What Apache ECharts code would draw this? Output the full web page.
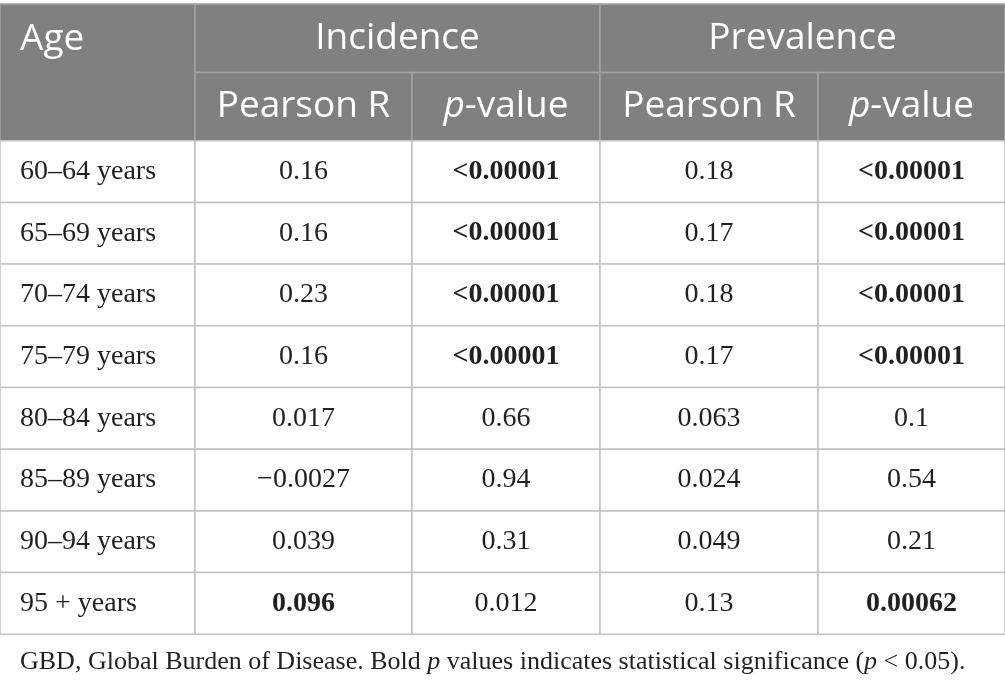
<!DOCTYPE html>
<html lang="en">
<head>
<meta charset="UTF-8">
<title>Age correlation table</title>
<script src="https://cdn.jsdelivr.net/npm/echarts@6/dist/echarts.min.js"></script>
<style>
  html, body { margin: 0; padding: 0; background: #fff; }
  #main { width: 1005px; height: 685px; }
</style>
</head>
<body>
<div id="main"></div>
<script>
    // table data
    var ages = ['60–64 years', '65–69 years', '70–74 years', '75–79 years',
                '80–84 years', '85–89 years', '90–94 years', '95 + years'];
    var incidenceR = ['0.16', '0.16', '0.23', '0.16', '0.017', '−0.0027', '0.039', '0.096'];
    var incidenceP = ['<0.00001', '<0.00001', '<0.00001', '<0.00001', '0.66', '0.94', '0.31', '0.012'];
    var prevalenceR = ['0.18', '0.17', '0.18', '0.17', '0.063', '0.024', '0.049', '0.13'];
    var prevalenceP = ['<0.00001', '<0.00001', '<0.00001', '<0.00001', '0.1', '0.54', '0.21', '0.00062'];
    // bold as printed in the source
    var incidenceRBold = [0, 0, 0, 0, 0, 0, 0, 1];
    var incidencePBold = [1, 1, 1, 1, 0, 0, 0, 0];
    var prevalenceRBold = [0, 0, 0, 0, 0, 0, 0, 0];
    var prevalencePBold = [1, 1, 1, 1, 0, 0, 0, 1];
    var groupNames = ['Incidence', 'Prevalence'];
    var subHeads = ['Pearson R', '{it|p}-value'];
    var footnote = 'GBD, Global Burden of Disease. Bold {it|p} values indicates statistical significance ({it|p} < 0.05).';

    // layout (pixel units, the axes run 0..1005 / 0..685)
    var colEdges = [0, 195, 412, 600, 818, 1005];
    var headTop = 4, headMid = 72.5, headBottom = 140.7, rowH = 61.7;

    var headFont = '"Open Sans", "Noto Sans", sans-serif';
    var bodyFont = '"Liberation Serif", "DejaVu Serif", serif';
    var headSize = 37, bodySize = 28, noteSize = 26;
    var headFill = '#808080', headLine = '#a3a3a3', bodyLine = '#c2c2c2', ink = '#231f20';

    var headRich = {
        it: { fontStyle: 'italic', fontFamily: headFont, fontSize: headSize, fill: '#fff' }
    };

    // build cells
    var cells = [];
    cells.push({ x0: 0, y0: headTop, x1: colEdges[1], y1: headBottom, text: 'Age',
                 head: true, align: 'left', ty: (headTop + headMid) / 2 + 1 });
    groupNames.forEach(function (g, i) {
        cells.push({ x0: colEdges[1 + i * 2], y0: headTop, x1: colEdges[3 + i * 2], y1: headMid,
                     text: g, head: true, align: 'center' });
        subHeads.forEach(function (s, j) {
            cells.push({ x0: colEdges[1 + i * 2 + j], y0: headMid, x1: colEdges[2 + i * 2 + j], y1: headBottom,
                         text: s, head: true, align: 'center' });
        });
    });
    var bodyCols = [
        [ages, null], [incidenceR, incidenceRBold], [incidenceP, incidencePBold],
        [prevalenceR, prevalenceRBold], [prevalenceP, prevalencePBold]
    ];
    ages.forEach(function (a, r) {
        bodyCols.forEach(function (col, c) {
            cells.push({
                x0: colEdges[c], x1: colEdges[c + 1],
                y0: headBottom + r * rowH, y1: headBottom + (r + 1) * rowH,
                text: col[0][r], head: false,
                bold: col[1] ? col[1][r] === 1 : false,
                align: c === 0 ? 'left' : 'center'
            });
        });
    });

    var myChart = echarts.init(document.getElementById('main'));

    function renderCell(params, api) {
        var c = cells[api.value(4)];
        var p0 = api.coord([api.value(0), api.value(1)]);
        var p1 = api.coord([api.value(2), api.value(3)]);
        var ty = c.ty != null ? api.coord([0, c.ty])[1] : (p0[1] + p1[1]) / 2;
        var tx = c.align === 'left' ? p0[0] + 20 : (p0[0] + p1[0]) / 2;
        return {
            type: 'group',
            children: [{
                type: 'rect',
                shape: { x: p0[0], y: p0[1], width: p1[0] - p0[0], height: p1[1] - p0[1] },
                style: { fill: c.head ? headFill : '#fff', stroke: c.head ? headLine : bodyLine, lineWidth: 1.5 }
            }, {
                type: 'text',
                x: tx, y: ty,
                style: {
                    text: c.text,
                    fontFamily: c.head ? headFont : bodyFont,
                    fontSize: c.head ? headSize : bodySize,
                    fontWeight: c.bold ? 'bold' : 'normal',
                    fill: c.head ? '#fff' : ink,
                    align: c.align,
                    verticalAlign: 'middle',
                    rich: c.head ? headRich : {}
                }
            }]
        };
    }

    var option = {
        animation: false,
        grid: { left: 0, right: 0, top: 0, bottom: 0 },
        xAxis: { type: 'value', min: 0, max: 1005, show: false },
        yAxis: { type: 'value', min: 0, max: 685, inverse: true, show: false },
        graphic: [{
            type: 'text',
            left: 20, top: 649,
            style: {
                text: footnote,
                fontFamily: bodyFont, fontSize: noteSize, fill: ink,
                rich: { it: { fontStyle: 'italic', fontFamily: bodyFont, fontSize: noteSize, fill: ink } }
            }
        }],
        series: [{
            type: 'custom',
            coordinateSystem: 'cartesian2d',
            renderItem: renderCell,
            data: cells.map(function (c, i) { return [c.x0, c.y0, c.x1, c.y1, i]; })
        }]
    };

    myChart.setOption(option);
</script>
</body>
</html>
